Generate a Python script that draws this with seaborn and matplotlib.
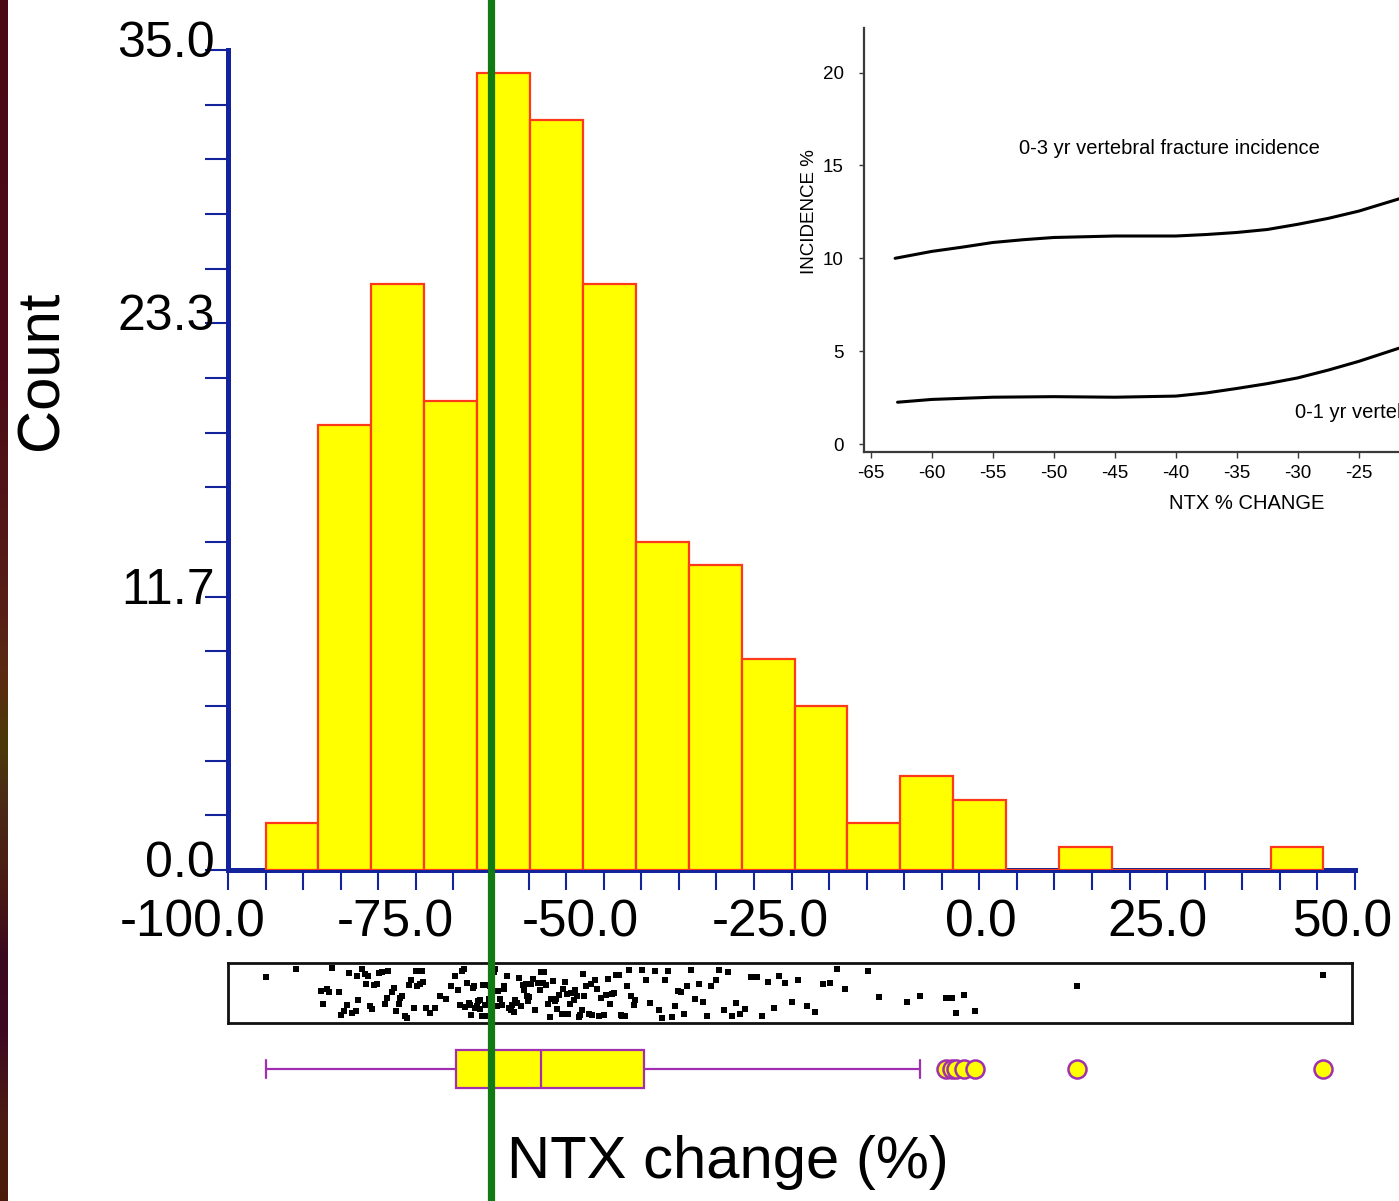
import numpy as np
import pandas as pd
import seaborn as sns
import matplotlib
matplotlib.use("Agg")
import matplotlib.pyplot as plt
from matplotlib import transforms
from matplotlib.lines import Line2D
from matplotlib.colors import LinearSegmentedColormap

# ---------------------------------------------------------------- data
# Percent change in urinary NTX for each patient
ntx_change = [
    -95.0, -91.0,
    -87.6, -87.4, -86.8, -86.5, -86.1, -85.2, -85.0, -84.6, -84.1, -83.9,
    -83.5, -83.0, -82.8, -82.7, -82.1, -81.8, -81.6, -81.4, -81.1,
    -80.8, -80.6, -80.2, -79.9, -79.5, -79.1, -78.9, -78.7, -78.2, -77.9,
    -77.6, -77.3, -77.1, -76.8, -76.4, -76.2, -75.9, -75.6, -75.3, -75.0,
    -74.9, -74.6, -74.5, -74.2, -74.0,
    -73.6, -73.1, -72.4, -71.8, -71.0, -70.3, -69.8, -69.4, -69.1, -68.9,
    -68.6, -68.4, -68.2, -67.9, -67.8, -67.6, -67.4, -67.3, -67.1, -66.9,
    -66.7, -66.5, -66.4, -66.2, -66.0, -65.8, -65.7, -65.5, -65.3, -65.1,
    -64.9, -64.6, -64.5, -64.2, -64.0, -63.8, -63.5, -63.3, -63.2, -62.9,
    -62.6, -62.4, -62.2, -61.9, -61.8, -61.5, -61.3, -61.0, -60.8, -60.6,
    -60.4, -60.2, -60.1, -59.9,
    -59.7, -59.4, -59.1, -58.8, -58.5, -58.3, -58.1, -57.9, -57.7, -57.4,
    -57.2, -57.0, -56.8, -56.5, -56.3, -56.2, -55.9, -55.6, -55.4, -55.2,
    -54.9, -54.7, -54.5, -54.3, -54.1, -53.9, -53.8, -53.5, -53.3, -53.1,
    -52.9, -52.8,
    -52.6, -52.3, -52.0, -51.7, -51.5, -51.2, -50.9, -50.6, -50.3, -50.0,
    -49.7, -49.4, -49.2, -48.9, -48.6, -48.3, -48.0, -47.7, -47.5, -47.2,
    -46.9, -46.6, -46.3, -46.0, -45.8,
    -44.9, -44.3, -43.8, -43.2, -42.7, -42.3, -41.8, -41.4, -40.9, -40.5,
    -40.1, -39.7, -39.3, -38.9,
    -38.4, -37.9, -37.3, -36.8, -36.2, -35.7, -35.1, -34.6, -34.0, -33.5,
    -32.9, -32.4, -31.9,
    -31.2, -30.4, -29.6, -28.9, -28.1, -27.3, -26.6, -25.8, -25.0,
    -24.1, -23.0, -21.9, -20.8, -19.9, -18.9, -17.9,
    -14.8, -13.4,
    -9.6, -7.9, -4.4, -3.7,
    -3.1, -2.0, -0.6,
    13.0,
    45.8,
]
threshold = -65.0

# Incidence curves of the inset (x = NTX % change, y = incidence %)
inset_ntx_3yr = [-63.0, -60.0, -57.5, -55.0, -52.5, -50.0, -45.0, -40.0,
                 -37.5, -35.0, -32.5, -30.0, -27.5, -25.0, -21.7]
inset_inc_3yr = [10.0, 10.37, 10.6, 10.85, 11.0, 11.12, 11.2, 11.2,
                 11.28, 11.39, 11.55, 11.83, 12.15, 12.54, 13.2]
inset_ntx_1yr = [-62.8, -60.0, -55.0, -50.0, -45.0, -40.0, -37.5, -35.0,
                 -32.5, -30.0, -27.5, -25.0, -21.7]
inset_inc_1yr = [2.25, 2.4, 2.52, 2.55, 2.52, 2.58, 2.75, 2.99,
                 3.25, 3.56, 3.98, 4.45, 5.16]

y_major = [0.0, 35.0 / 3, 70.0 / 3, 35.0]
y_labels = ["0.0", "11.7", "23.3", "35.0"]
x_major = [-100, -75, -50, -25, 0, 25, 50]
x_labels = ["-100.0", "-75.0", "-50.0", "-25.0", "0.0", "25.0", "50.0"]
inset_xticks = [-65, -60, -55, -50, -45, -40, -35, -30, -25]
inset_yticks = [0, 5, 10, 15, 20]

df = pd.DataFrame({"ntx": ntx_change})

# ---------------------------------------------------------------- style
sns.set_style("white")
plt.rcParams["font.family"] = ["Liberation Sans", "DejaVu Sans"]
plt.rcParams["text.color"] = "black"
plt.rcParams["xtick.labelcolor"] = "black"
plt.rcParams["ytick.labelcolor"] = "black"

BLUE = "#13239b"
YELLOW = "#ffff00"
RED = "#ff3a1a"
PURPLE = "#a030b0"
GREEN = "#127a12"

W, H = 1399, 1201
fig = plt.figure(figsize=(W / 100, H / 100), dpi=100)
fig.patch.set_facecolor("white")


def fx(px):
    return px / W


def fy(py):
    return 1 - py / H


# dark slide edge on the left
ax_edge = fig.add_axes([0, 0, fx(8), 1])
edge_cmap = LinearSegmentedColormap.from_list("edge", [
    (0.00, "#4a0a14"), (0.30, "#4a0a18"), (0.50, "#561e16"),
    (0.57, "#5a2c10"), (0.62, "#4a3a08"), (0.67, "#4a2a16"),
    (0.74, "#4a1a14"), (0.80, "#3a0820"), (0.86, "#3e0a22"),
    (0.93, "#4a1c12"), (1.00, "#4a1c08")])
ax_edge.imshow(np.linspace(0, 1, 256)[:, None], aspect="auto",
               cmap=edge_cmap, origin="upper")
ax_edge.axis("off")

# ---------------------------------------------------------------- histogram
ax = fig.add_axes([fx(228), fy(870), fx(1355) - fx(228), fy(50) - fy(870)])
ax.set_facecolor("none")
sns.histplot(data=df, x="ntx", bins=20, ax=ax, color=YELLOW, alpha=1,
             edgecolor=RED, linewidth=1.6)
ax.set_xlim(-100, 50)
ax.set_ylim(0, 35)
ax.set_xlabel("")
ax.set_ylabel("")
for side in ("top", "right"):
    ax.spines[side].set_visible(False)
for side in ("left", "bottom"):
    ax.spines[side].set_color(BLUE)
    ax.spines[side].set_linewidth(3.6)
    ax.spines[side].set_zorder(0.5)

ax.set_yticks(y_major)
ax.set_yticklabels(y_labels)
ax.set_yticks(np.arange(16) * 35.0 / 15, minor=True)
ax.set_xticks(x_major)
ax.set_xticklabels(x_labels)
ax.set_xticks(np.arange(-100, 51, 5), minor=True)
ax.tick_params(axis="y", which="both", direction="out", length=16.5,
               width=1.5, color=BLUE, labelsize=36, pad=-7, left=True,
               labelcolor="black")
ax.tick_params(axis="x", which="both", direction="out", length=14.5,
               width=1.5, color=BLUE, labelsize=37, pad=6, bottom=True,
               labelcolor="black")

# ---------------------------------------------------------------- strip plot
ax_strip = fig.add_axes([fx(228), fy(1023), fx(1352) - fx(228), fy(963) - fy(1023)])
ax_strip.set_facecolor("none")
np.random.seed(11)
sns.stripplot(data=df, x="ntx", ax=ax_strip, color="black", marker="s",
              size=4.6, linewidth=0, jitter=0.42, orient="h")
ax_strip.set_xlim(-100, 50 - 3 / 7.513)
ax_strip.set_ylim(0.5, -0.5)
ax_strip.set_xticks([])
ax_strip.set_yticks([])
ax_strip.set_xlabel("")
ax_strip.set_ylabel("")
for s in ax_strip.spines.values():
    s.set_visible(True)
    s.set_color("#111111")
    s.set_linewidth(2.0)

# ---------------------------------------------------------------- box plot
ax_box = fig.add_axes([fx(228), fy(1098), fx(1355) - fx(228), fy(1040) - fy(1098)])
ax_box.set_facecolor("none")
sns.boxplot(data=df, x="ntx", ax=ax_box, color=YELLOW, saturation=1,
            linecolor=PURPLE, linewidth=1.6, width=0.64, orient="h",
            fliersize=13,
            flierprops=dict(marker="o", markerfacecolor=YELLOW,
                            markeredgecolor=PURPLE, markeredgewidth=1.8))
ax_box.set_xlim(-100, 50)
ax_box.set_ylim(0.5, -0.5)
ax_box.set_xticks([])
ax_box.set_yticks([])
ax_box.set_xlabel("")
ax_box.set_ylabel("")
for s in ax_box.spines.values():
    s.set_visible(False)

# ---------------------------------------------------------------- inset
ax_in = fig.add_axes([fx(864), fy(452), fx(1399) - fx(864), fy(28) - fy(452)])
ax_in.set_facecolor("none")
sns.lineplot(x=inset_ntx_3yr, y=inset_inc_3yr, ax=ax_in, color="black",
             linewidth=2.2)
sns.lineplot(x=inset_ntx_1yr, y=inset_inc_1yr, ax=ax_in, color="black",
             linewidth=2.2)
ax_in.set_xlim(-65.55, -21.7)
ax_in.set_ylim(-0.43, 22.4)
ax_in.set_xticks(inset_xticks)
ax_in.set_xticklabels([str(v) for v in inset_xticks])
ax_in.set_yticks(inset_yticks)
ax_in.set_yticklabels([str(v) for v in inset_yticks])
for side in ("top", "right"):
    ax_in.spines[side].set_visible(False)
for side in ("left", "bottom"):
    ax_in.spines[side].set_color("#3a3a3a")
    ax_in.spines[side].set_linewidth(1.6)
ax_in.tick_params(axis="x", direction="out", length=4.5, width=1.0,
                  color="#3a3a3a", labelsize=13.5, pad=5, bottom=True,
                  labelcolor="black")
ax_in.tick_params(axis="y", direction="out", length=3.5, width=1.0,
                  color="#3a3a3a", labelsize=13.5, pad=11, left=True,
                  labelcolor="black")
ax_in.text(-34.2, -3.2, "NTX % CHANGE", ha="center", va="center",
           fontsize=14.5, clip_on=False)
ax_in.text(-70.0, 12.5, "INCIDENCE %", ha="center", va="center",
           rotation=90, fontsize=13.5, clip_on=False)
ax_in.text(-40.5, 15.9, "0-3 yr vertebral fracture incidence", ha="center",
           va="center", fontsize=14.5)
ax_in.text(-30.2, 1.67, "0-1 yr vertebral fracture incidence", ha="left",
           va="center", fontsize=14.5, clip_on=False)

# ---------------------------------------------------------------- titles
fig.text(fx(42), fy(370), "Count", rotation=90, ha="center", va="center",
         fontsize=43)
fig.text(fx(728), fy(1163), "NTX change (%)", ha="center", va="center",
         fontsize=43)

# threshold line across the whole figure
trans = transforms.blended_transform_factory(ax.transData, fig.transFigure)
fig.add_artist(Line2D([threshold, threshold], [0, 1], transform=trans,
                      color=GREEN, linewidth=5.2, zorder=10))

# nudge tick labels
up = transforms.ScaledTranslation(0, 11 / 100, fig.dpi_scale_trans)
for lbl in ax.get_yticklabels():
    lbl.set_transform(lbl.get_transform() + up)
x_shift_px = [-35, -21, -23, -21, 1, -10, -12]
for lbl, dx in zip(ax.get_xticklabels(), x_shift_px):
    lbl.set_transform(lbl.get_transform()
                      + transforms.ScaledTranslation(dx / 100, 0, fig.dpi_scale_trans))

fig.savefig("out.png", dpi=100)
